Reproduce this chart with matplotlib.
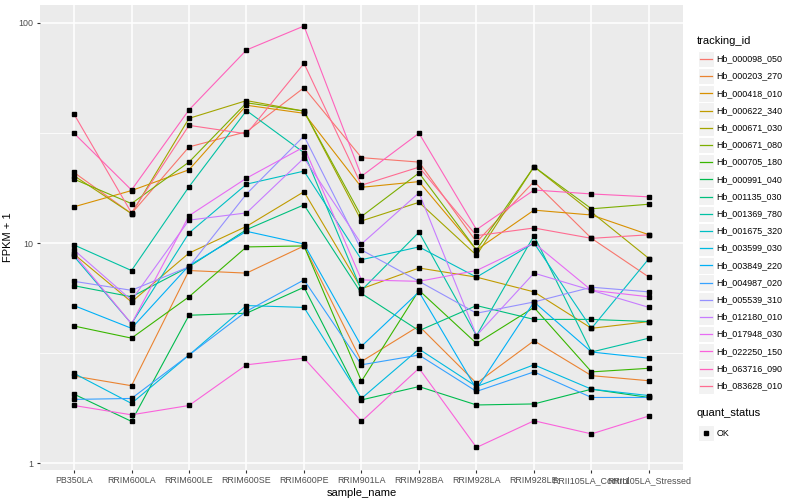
import numpy as np
import matplotlib
matplotlib.use("Agg")
import matplotlib.pyplot as plt
from matplotlib.lines import Line2D
from matplotlib.patches import Rectangle

plt.rcParams['font.family'] = ['Liberation Sans', 'DejaVu Sans']

samples = ["PB350LA", "RRIM600LA", "RRIM600LE", "RRIM600SE", "RRIM600PE",
           "RRIM901LA", "RRIM928BA", "RRIM928LA", "RRIM928LE",
           "RRII105LA_Control", "RRII105LA_Stressed"]

tracking_ids = ["Hb_000098_050", "Hb_000203_270", "Hb_000418_010", "Hb_000622_340",
                "Hb_000671_030", "Hb_000671_080", "Hb_000705_180", "Hb_000991_040",
                "Hb_001135_030", "Hb_001369_780", "Hb_001675_320", "Hb_003599_030",
                "Hb_003849_220", "Hb_004987_020", "Hb_005539_310", "Hb_012180_010",
                "Hb_017948_030", "Hb_022250_150", "Hb_063716_090", "Hb_083628_010"]

colors = ["#F8766D", "#EA8331", "#D89000", "#C09B00", "#A3A500", "#7CAE00", "#39B600",
          "#00BB4E", "#00BF7D", "#00C1A3", "#00BFC4", "#00BAE0", "#00B0F6", "#35A2FF",
          "#9590FF", "#C77CFF", "#E76BF3", "#FA62DB", "#FF62BC", "#FF6C91"]

# FPKM + 1 per sample (order of `samples`)
hb_000098_050 = [20.9, 13.6, 27.3, 32.0, 50.7, 24.4, 23.3, 10.1, 19.0, 10.5, 7.0]
hb_000203_270 = [2.49, 2.25, 7.5, 7.3, 9.7, 2.9, 4.2, 2.31, 3.6, 2.50, 2.37]
hb_000418_010 = [14.6, 17.3, 21.5, 42.2, 38.8, 17.9, 19.0, 9.3, 14.1, 13.4, 10.9]
hb_000622_340 = [8.9, 5.4, 9.0, 11.9, 17.1, 6.2, 7.7, 7.0, 6.0, 4.1, 4.4]
hb_000671_030 = [20.2, 13.6, 36.8, 44.3, 39.7, 12.6, 15.3, 8.8, 22.2, 13.8, 8.5]
hb_000671_080 = [19.5, 15.1, 23.3, 43.3, 39.7, 13.2, 20.8, 9.3, 22.2, 14.3, 15.0]
hb_000705_180 = [4.2, 3.7, 5.7, 9.6, 9.7, 2.36, 6.1, 3.5, 5.1, 2.6, 2.7]
hb_000991_040 = [2.06, 1.55, 4.7, 4.8, 6.3, 1.94, 2.23, 1.84, 1.86, 2.17, 1.99]
hb_001135_030 = [6.4, 5.7, 7.8, 11.5, 14.9, 5.9, 4.0, 5.2, 4.5, 4.5, 4.4]
hb_001369_780 = [9.8, 7.5, 18.0, 39.9, 25.7, 6.1, 11.2, 3.8, 10.8, 3.2, 3.7]
hb_001675_320 = [8.7, 4.3, 11.1, 18.5, 21.2, 8.4, 9.6, 7.0, 10.0, 4.1, 8.5]
hb_003599_030 = [2.56, 1.87, 3.1, 5.2, 5.1, 1.97, 3.3, 2.23, 2.8, 2.17, 2.03]
hb_003849_220 = [5.2, 4.1, 7.9, 11.3, 9.9, 3.4, 6.0, 2.17, 5.4, 3.2, 3.0]
hb_004987_020 = [1.95, 1.97, 3.1, 4.9, 6.8, 2.8, 3.1, 2.12, 2.6, 1.99, 1.99]
hb_005539_310 = [6.7, 6.1, 7.8, 16.7, 30.6, 9.3, 6.7, 4.8, 5.4, 6.3, 6.0]
hb_012180_010 = [9.3, 5.5, 12.7, 13.7, 24.3, 9.9, 16.9, 3.8, 7.3, 6.1, 5.1]
hb_017948_030 = [8.9, 4.3, 13.3, 19.7, 27.3, 6.8, 6.7, 7.5, 10.0, 6.1, 5.7]
hb_022250_150 = [1.83, 1.66, 1.83, 2.8, 3.0, 1.55, 2.7, 1.18, 1.56, 1.36, 1.64]
hb_063716_090 = [31.5, 17.4, 40.2, 75.2, 96.6, 20.1, 31.5, 11.5, 17.4, 16.7, 16.2]
hb_083628_010 = [38.5, 13.7, 34.2, 31.3, 65.4, 18.3, 22.1, 10.8, 11.7, 10.5, 10.9]

series = [hb_000098_050, hb_000203_270, hb_000418_010, hb_000622_340, hb_000671_030,
          hb_000671_080, hb_000705_180, hb_000991_040, hb_001135_030, hb_001369_780,
          hb_001675_320, hb_003599_030, hb_003849_220, hb_004987_020, hb_005539_310,
          hb_012180_010, hb_017948_030, hb_022250_150, hb_063716_090, hb_083628_010]

W, H = 800, 500
fig = plt.figure(figsize=(8, 5), dpi=100)
fig.patch.set_facecolor("white")

def fx(x):
    return x / W

def fy(y):
    return 1 - y / H

ax = fig.add_axes([fx(39.5), fy(469.5), fx(683.5) - fx(39.5), fy(5) - fy(469.5)])
ax.set_facecolor("#EBEBEB")
for s in ax.spines.values():
    s.set_visible(False)

x = np.arange(len(samples))
ax.set_yscale("log")
ax.set_xlim(-0.6, len(samples) - 1 + 0.6)
ax.set_ylim(10 ** -0.0281, 10 ** 2.0804)

# grid
for yv in [1, 10, 100]:
    ax.axhline(yv, color="white", lw=1.1, zorder=0)
for yv in [10 ** 0.5, 10 ** 1.5]:
    ax.axhline(yv, color="white", lw=0.55, zorder=0)
for xv in x:
    ax.axvline(xv, color="white", lw=1.1, zorder=0)

for vals, col in zip(series, colors):
    ax.plot(x, vals, color=col, lw=0.8, zorder=2)
for vals in series:
    ax.plot(x, vals, ls="none", marker="s", ms=2.4, color="black", zorder=3)

ax.set_xticks(x)
ax.set_xticklabels(samples, fontsize=6.4, color="#4D4D4D")
ax.set_yticks([1, 10, 100])
ax.set_yticklabels(["1", "10", "100"], fontsize=6.4, color="#4D4D4D")
ax.yaxis.set_minor_locator(matplotlib.ticker.NullLocator())
ax.tick_params(axis="both", length=2.5, width=0.8, color="#333333", pad=2)
ax.set_xlabel("sample_name", fontsize=8, labelpad=2)
ax.set_ylabel("FPKM + 1", fontsize=8, labelpad=4)

# legend
fig.text(fx(696.5), fy(40.5), "tracking_id", fontsize=8, va="center", ha="left")
y0, dy = 59.0, 17.2
for i, (tid, col) in enumerate(zip(tracking_ids, colors)):
    yc = y0 + i * dy
    fig.patches.append(Rectangle((fx(697.5), fy(yc + 8.2)), fx(16.4), 16.4 / H,
                                 transform=fig.transFigure, facecolor="#F2F2F2",
                                 edgecolor="white", lw=0.8))
    fig.lines.append(Line2D([fx(699.5), fx(712)], [fy(yc), fy(yc)], color=col, lw=0.9,
                            transform=fig.transFigure))
    fig.text(fx(716.5), fy(yc), tid, fontsize=6.4, va="center", ha="left")

fig.text(fx(696.5), fy(412.5), "quant_status", fontsize=8, va="center", ha="left")
yk = 433.0
fig.patches.append(Rectangle((fx(697.5), fy(yk + 8.2)), fx(16.4), 16.4 / H,
                             transform=fig.transFigure, facecolor="#F2F2F2",
                             edgecolor="white", lw=0.8))
fig.lines.append(Line2D([fx(705.7)], [fy(yk)], marker="s", ms=2.4, color="black",
                        transform=fig.transFigure))
fig.text(fx(716.5), fy(yk), "OK", fontsize=6.4, va="center", ha="left")

fig.savefig("out.png", dpi=100)
